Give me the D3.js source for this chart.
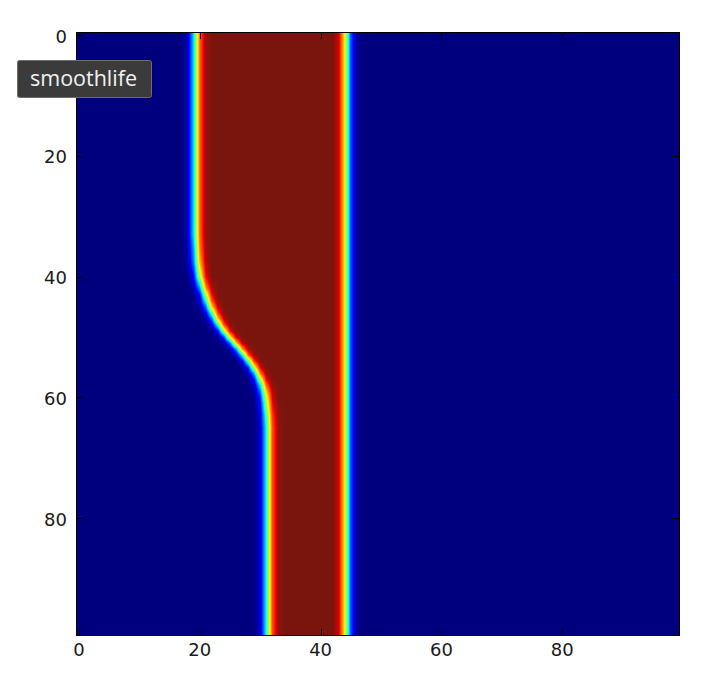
<!DOCTYPE html>
<html lang="en">
<head>
  <meta charset="UTF-8">
  <title>smoothlife</title>
  <script src="https://d3js.org/d3.v7.min.js"></script>
  <style>
    body { margin: 0; background: #fff; }
    svg { display: block; }
    .tick-label { font-family: "DejaVu Sans", sans-serif; font-size: 18px; fill: #1a1a1a; }
    .tip-text { font-family: "Open Sans", sans-serif; font-size: 21.5px; fill: #f2f2f2; }
  </style>
</head>
<body>
<svg width="720" height="694"></svg>
<script>
// tick labels on both axes
const xTicks = [0, 20, 40, 60, 80];
const yTicks = [0, 20, 40, 60, 80];

// column where the band starts / ends, one value per row
const leftEdge = [
  19.4, 19.4, 19.4, 19.4, 19.4, 19.4, 19.4, 19.4, 19.4, 19.4,
  19.4, 19.4, 19.4, 19.4, 19.4, 19.4, 19.4, 19.4, 19.4, 19.4,
  19.4, 19.4, 19.4, 19.4, 19.4, 19.4, 19.4, 19.4, 19.4, 19.4,
  19.4, 19.4, 19.4, 19.4, 19.45, 19.5, 19.55, 19.6, 19.7, 19.85,
  20.0, 20.3, 20.6, 21.0, 21.3, 21.7, 22.2, 22.7, 23.3, 24.0,
  24.8, 25.7, 26.6, 27.4, 28.2, 28.9, 29.5, 30.0, 30.4, 30.7,
  30.9, 31.05, 31.15, 31.25, 31.3, 31.35, 31.35, 31.35, 31.35, 31.35,
  31.35, 31.35, 31.35, 31.35, 31.35, 31.35, 31.35, 31.35, 31.35, 31.35,
  31.35, 31.35, 31.35, 31.35, 31.35, 31.35, 31.35, 31.35, 31.35, 31.35,
  31.35, 31.35, 31.35, 31.35, 31.35, 31.35, 31.35, 31.35, 31.35, 31.35
];
const rightEdge = [
  44.2, 44.2, 44.2, 44.2, 44.2, 44.2, 44.2, 44.2, 44.2, 44.2,
  44.2, 44.2, 44.2, 44.2, 44.2, 44.2, 44.2, 44.2, 44.2, 44.2,
  44.2, 44.2, 44.2, 44.2, 44.2, 44.2, 44.2, 44.2, 44.2, 44.2,
  44.2, 44.2, 44.2, 44.2, 44.2, 44.2, 44.2, 44.2, 44.2, 44.2,
  44.2, 44.2, 44.2, 44.2, 44.2, 44.2, 44.2, 44.2, 44.2, 44.2,
  44.2, 44.2, 44.2, 44.2, 44.2, 44.2, 44.2, 44.2, 44.2, 44.2,
  44.2, 44.2, 44.2, 44.2, 44.2, 44.2, 44.2, 44.2, 44.2, 44.2,
  44.2, 44.2, 44.2, 44.2, 44.2, 44.2, 44.2, 44.2, 44.2, 44.2,
  44.2, 44.2, 44.2, 44.2, 44.2, 44.2, 44.2, 44.2, 44.2, 44.2,
  44.2, 44.2, 44.2, 44.2, 44.2, 44.2, 44.2, 44.2, 44.2, 44.2
];
const nCols = 100;

// value across an edge: distance from edge (cells) -> level
const edgeDist  = [-2, -1.5, -1, -0.5, 0, 0.5, 1, 1.5, 2];
const edgeLevel = [0, 0.04, 0.13, 0.3, 0.56, 0.78, 0.91, 0.97, 1];

// jet colormap stops
const jetStops  = [0, 0.11, 0.125, 0.34, 0.35, 0.375, 0.64, 0.65, 0.66, 0.89, 0.91, 1];
const jetColors = ["rgb(0,0,127)", "rgb(0,0,255)", "rgb(0,0,255)", "rgb(0,219,255)",
  "rgb(0,229,247)", "rgb(21,255,226)", "rgb(239,255,8)", "rgb(247,245,0)",
  "rgb(255,236,0)", "rgb(255,19,0)", "rgb(232,0,0)", "rgb(122,21,13)"];

const svg = d3.select('svg');
const plotL = 76, plotR = 680, plotT = 32, plotB = 636;

const x = d3.scaleLinear().domain([-0.5, nCols - 0.5]).range([plotL, plotR]);
const y = d3.scaleLinear().domain([-0.5, leftEdge.length - 0.5]).range([plotT, plotB]);
const profile = d3.scaleLinear().domain(edgeDist).range(edgeLevel).clamp(true);
const jet = d3.scaleLinear().domain(jetStops).range(jetColors).interpolate(d3.interpolateRgb).clamp(true);

// cell grid
const grid = leftEdge.map((l, r) => d3.range(nCols).map(c =>
  Math.min(profile(c - l), profile(rightEdge[r] - c))));

// draw with bilinear interpolation, like imshow
const w = plotR - plotL, h = plotB - plotT;
const canvas = document.createElement('canvas');
canvas.width = w; canvas.height = h;
const ctx = canvas.getContext('2d');
const img = ctx.createImageData(w, h);
const nRows = grid.length;
for (let py = 0; py < h; py++) {
  const cy = Math.max(0, Math.min(nRows - 1, y.invert(plotT + py + 0.5)));
  const r0 = Math.min(nRows - 2, Math.floor(cy)), fy = cy - r0;
  for (let px = 0; px < w; px++) {
    const cx = Math.max(0, Math.min(nCols - 1, x.invert(plotL + px + 0.5)));
    const c0 = Math.min(nCols - 2, Math.floor(cx)), fx = cx - c0;
    const v = (grid[r0][c0] * (1 - fx) + grid[r0][c0 + 1] * fx) * (1 - fy)
            + (grid[r0 + 1][c0] * (1 - fx) + grid[r0 + 1][c0 + 1] * fx) * fy;
    const col = d3.rgb(jet(v));
    const i = (py * w + px) * 4;
    img.data[i] = col.r; img.data[i + 1] = col.g; img.data[i + 2] = col.b; img.data[i + 3] = 255;
  }
}
ctx.putImageData(img, 0, 0);

svg.append('image')
  .attr('x', plotL).attr('y', plotT)
  .attr('width', w).attr('height', h)
  .attr('preserveAspectRatio', 'none')
  .attr('href', canvas.toDataURL());

// frame
svg.append('rect')
  .attr('x', plotL + 0.5).attr('y', plotT + 0.5)
  .attr('width', w - 1).attr('height', h - 1)
  .attr('fill', 'none').attr('stroke', '#000').attr('stroke-width', 1);

// inward ticks on all four sides
const tl = 7;
const ticks = svg.append('g').attr('stroke', '#000').attr('stroke-width', 1);
xTicks.forEach(t => {
  const px = Math.round(x(t)) + 0.5;
  ticks.append('line').attr('x1', px).attr('x2', px).attr('y1', plotB).attr('y2', plotB - tl);
  ticks.append('line').attr('x1', px).attr('x2', px).attr('y1', plotT).attr('y2', plotT + tl);
});
yTicks.forEach(t => {
  const py = Math.round(y(t)) + 0.5;
  ticks.append('line').attr('y1', py).attr('y2', py).attr('x1', plotL).attr('x2', plotL + tl);
  ticks.append('line').attr('y1', py).attr('y2', py).attr('x1', plotR).attr('x2', plotR - tl);
});

svg.append('g').selectAll('text')
  .data(xTicks).enter().append('text')
  .attr('class', 'tick-label')
  .attr('x', d => x(d)).attr('y', plotB + 7)
  .attr('dy', '0.73em')
  .attr('text-anchor', 'middle')
  .text(d => d);

svg.append('g').selectAll('text')
  .data(yTicks).enter().append('text')
  .attr('class', 'tick-label')
  .attr('x', plotL - 9).attr('y', d => y(d) + 1)
  .attr('dy', '0.36em')
  .attr('text-anchor', 'end')
  .text(d => d);

// window title tooltip
const tip = svg.append('g');
tip.append('rect')
  .attr('x', 17.5).attr('y', 60.5).attr('width', 134).attr('height', 37).attr('rx', 2)
  .attr('fill', '#3b3b3b').attr('stroke', '#6e6e6e');
tip.append('text')
  .attr('class', 'tip-text')
  .attr('x', 30).attr('y', 86)
  .text('smoothlife');
</script>
</body>
</html>
